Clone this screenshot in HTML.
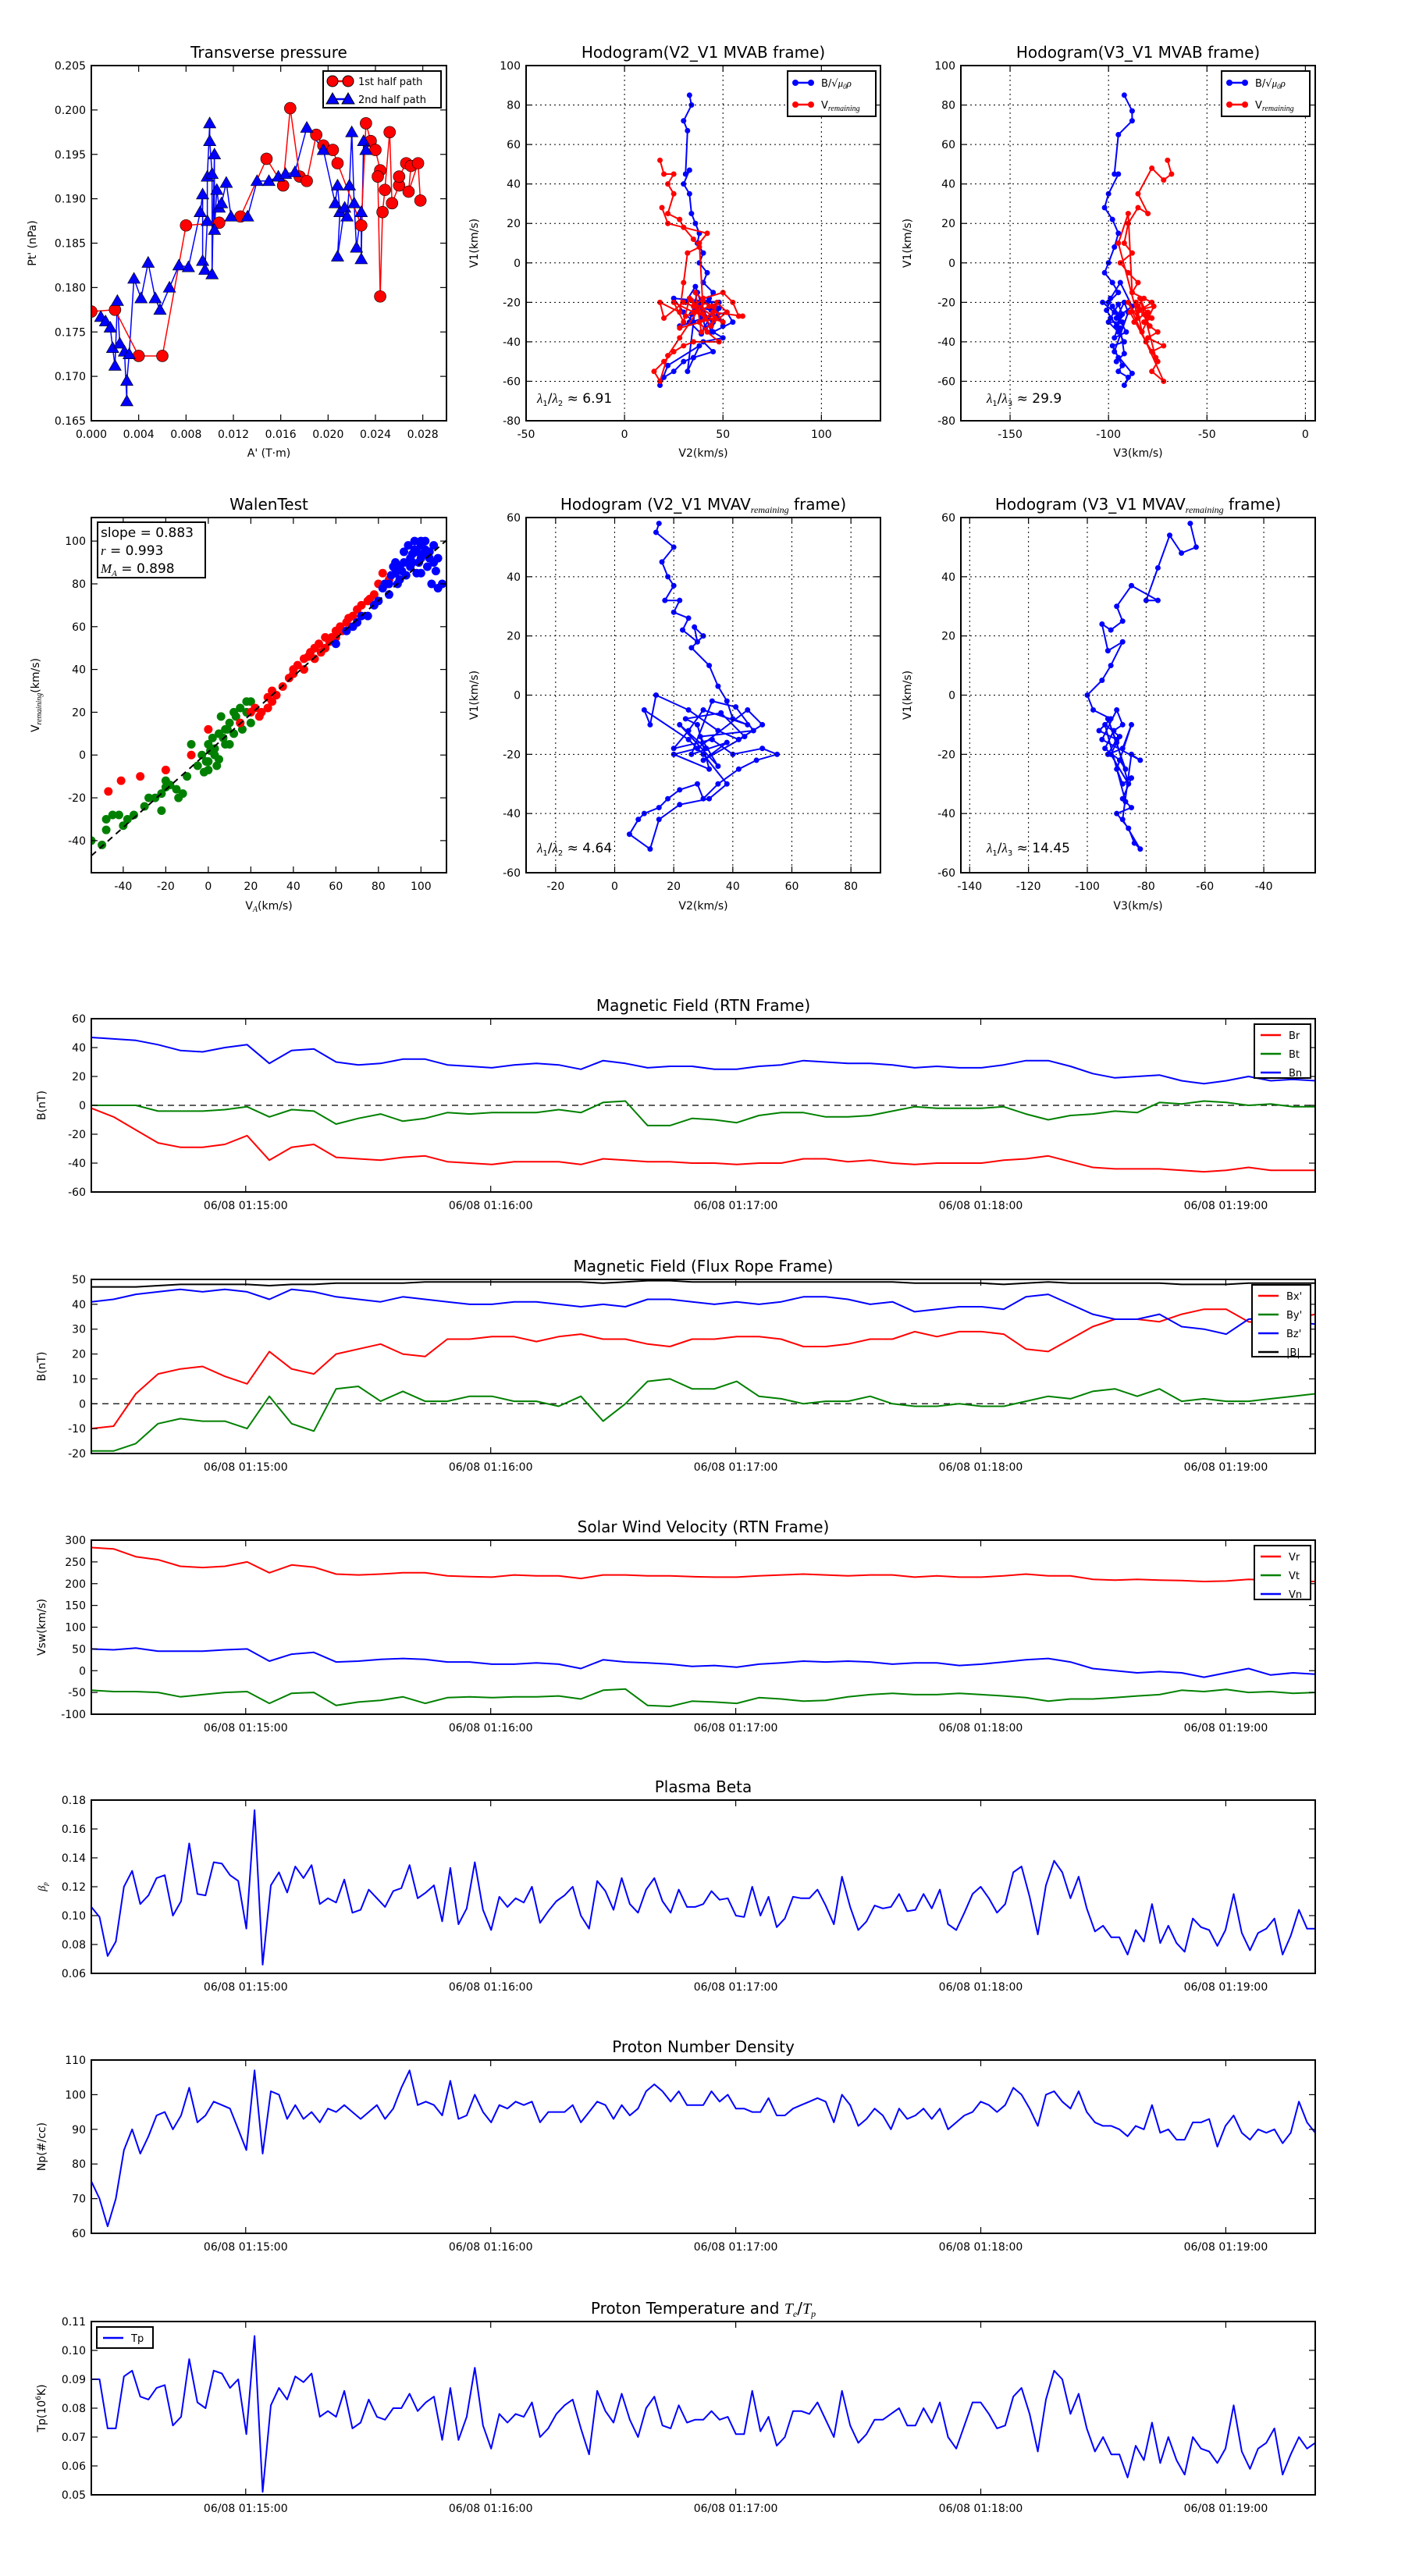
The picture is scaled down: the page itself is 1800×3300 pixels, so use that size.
<!DOCTYPE html>
<html><head><meta charset="utf-8">
<style>
body{margin:0;background:#fff}
svg{display:block}
text{font-family:"DejaVu Sans","Liberation Sans",sans-serif;fill:#000}
.m{font-family:"Liberation Serif",serif;font-style:italic}
</style></head>
<body>
<svg id="fig" xmlns="http://www.w3.org/2000/svg" width="1800" height="3300"></svg>
<script>
// ---------- Transverse pressure ----------
const ptRedX=[0.0,0.002,0.004,0.006,0.008,0.0108,0.0126,0.0148,0.0162,0.0168,0.0176,0.0182,0.019,0.0196,0.0204,0.0208,0.0228,0.0232,0.0236,0.024,0.0244,0.0242,0.0244,0.0246,0.0248,0.0252,0.0254,0.026,0.026,0.0266,0.027,0.0268,0.0276,0.0278];
const ptRedY=[0.1773,0.1775,0.1723,0.1723,0.187,0.1873,0.188,0.1945,0.1915,0.2002,0.1925,0.192,0.1972,0.196,0.1955,0.194,0.187,0.1985,0.1965,0.1955,0.1932,0.1925,0.179,0.1885,0.191,0.1975,0.1895,0.1915,0.1925,0.194,0.1937,0.1908,0.194,0.1898];
const ptBlueX=[0.0008,0.0012,0.0016,0.0018,0.002,0.0022,0.0024,0.0028,0.003,0.003,0.0032,0.0036,0.0042,0.0048,0.0054,0.0058,0.0066,0.0074,0.0082,0.0092,0.0094,0.0094,0.0096,0.0098,0.0098,0.01,0.01,0.0102,0.0102,0.0104,0.0104,0.0106,0.0108,0.011,0.0114,0.0118,0.0132,0.014,0.015,0.0158,0.0164,0.0172,0.0182,0.0196,0.0206,0.0208,0.021,0.0208,0.0214,0.0216,0.0218,0.022,0.0222,0.0224,0.0228,0.0228,0.023,0.0232];
const ptBlueY=[0.1767,0.1762,0.1755,0.1732,0.1712,0.1785,0.1737,0.1728,0.1672,0.1695,0.1725,0.181,0.1788,0.1828,0.1788,0.1775,0.18,0.1825,0.1823,0.1885,0.1905,0.183,0.182,0.1875,0.1925,0.1985,0.1965,0.1928,0.1815,0.195,0.1865,0.191,0.189,0.1895,0.1918,0.188,0.188,0.192,0.192,0.1925,0.1928,0.193,0.198,0.1955,0.1895,0.1915,0.1885,0.1835,0.189,0.188,0.1915,0.1975,0.1895,0.1845,0.1885,0.1832,0.1965,0.1955];
// ---------- Hodogram V2_V1 MVAB ----------
const h1BX=[33,34,30,32,31,33,30,33,34,36,38,37,40,38,42,40,45,42,48,25,30,35,28,40,52,55,45,50,40,45,35,30,25,20,18,22,38,32,36,44,47,41,38,34,43,50,46,39,33,37,42,48,44,36,31,40,45,39];
const h1BY=[85,80,72,67,45,47,40,35,25,20,15,10,5,0,-5,-10,-15,-20,-20,-18,-25,-30,-32,-28,-25,-30,-35,-38,-40,-45,-48,-50,-55,-58,-62,-52,-42,-55,-22,-24,-28,-33,-20,-26,-18,-32,-22,-36,-30,-15,-28,-23,-35,-12,-20,-25,-30,-27];
const h1RX=[18,20,25,22,25,22,28,30,35,38,32,30,28,18,20,30,35,40,50,55,58,60,45,38,42,48,35,30,25,20,15,18,22,28,40,45,50,35,25,30,33,37,41,44,47,52,39,36,43,31,28,46,34,40,38,42,22,19];
const h1RY=[52,45,45,40,35,25,22,18,12,8,5,-10,-25,-20,-28,-20,-22,-18,-15,-20,-27,-27,-25,-30,-35,-40,-40,-42,-45,-50,-55,-60,-47,-38,-20,-22,-30,-25,-20,-30,-18,-24,-28,-32,-20,-25,-35,-15,-22,-27,-33,-28,-19,-26,10,15,20,28];
// ---------- Hodogram V3_V1 MVAB ----------
const h2BX=[-92,-88,-88,-95,-97,-95,-100,-102,-98,-95,-97,-100,-102,-98,-95,-100,-103,-97,-93,-100,-95,-92,-98,-95,-93,-95,-90,-92,-88,-97,-90,-92,-96,-88,-94,-99,-101,-96,-94,-98,-91,-97,-93,-95,-99,-94,-92,-96];
const h2BY=[85,77,72,65,45,45,35,28,22,15,8,0,-5,-10,-15,-20,-20,-25,-30,-30,-35,-40,-42,-48,-52,-55,-58,-62,-56,-45,-25,-20,-28,-22,-10,-18,-24,-32,-27,-22,-35,-38,-26,-21,-28,-33,-46,-50];
const h2RX=[-70,-68,-72,-78,-85,-80,-85,-90,-92,-88,-94,-90,-85,-88,-82,-85,-80,-78,-82,-75,-80,-72,-78,-75,-78,-72,-90,-85,-95,-90,-88,-78,-84,-87,-82,-79,-86,-83,-77,-89,-81,-76,-84,-80];
const h2RY=[52,45,42,48,35,25,28,20,10,5,0,-5,-10,-15,-18,-22,-25,-28,-30,-35,-38,-42,-45,-50,-55,-60,-20,-28,10,25,-15,-20,-24,-30,-26,-32,-20,-35,-22,-25,-40,-48,-18,-27];
// ---------- Walen test ----------
const wGX=[-55,-50,-48,-48,-45,-42,-40,-38,-35,-30,-28,-25,-22,-20,-18,-15,-22,-20,-10,-5,-3,0,0,2,3,5,5,8,8,10,12,12,15,15,18,18,20,10,-2,6,-8,0,4,20,3,7,-12,-14,1,9,13,16,-1];
const wGY=[-40,-42,-30,-35,-28,-28,-33,-30,-28,-24,-20,-20,-18,-15,-14,-16,-26,-12,-10,-5,0,-3,5,8,0,-2,10,12,5,15,10,20,15,22,20,25,25,5,-8,18,5,-7,-5,15,3,8,-18,-20,2,12,18,12,-3];
const wRX=[-47,-41,-32,-20,0,-8,15,20,22,25,28,30,30,35,40,42,45,48,50,52,55,58,60,62,65,68,70,75,78,80,82,85,45,50,55,40,60,32,38,47,53,57,63,66,72,76,84,24,28];
const wRY=[-17,-12,-10,-7,12,0,15,20,22,20,22,25,30,32,40,42,45,48,50,52,55,55,58,60,62,65,68,72,75,80,85,82,40,45,50,38,55,28,36,46,48,53,58,64,70,73,80,18,27];
const wBX=[60,65,68,70,72,75,78,80,82,85,88,90,92,95,98,100,102,104,106,108,110,105,100,95,90,88,92,96,100,85,98,103,108,94,97,102,106,86,89,91,93,97,99,101,104,107,87,83,96,100];
const wBY=[52,58,60,62,65,65,70,72,78,80,85,88,90,92,95,98,100,95,98,92,80,80,85,88,82,90,95,90,92,75,85,88,78,98,100,96,90,84,80,86,84,96,90,94,92,86,88,80,94,100];
const walenSlope=0.883, walenIntercept=1.5;
// ---------- Hodogram MVAV remaining ----------
const h3X=[15,14,20,16,18,20,17,22,20,25,23,28,27,30,26,32,35,38,40,45,30,25,20,33,40,50,55,48,42,35,30,28,22,18,15,10,8,5,12,15,22,32,38,30,25,10,12,14,25,35,42,50,45,28,20,32,28,24,36,44,30,38,26,33,41,47,29,35,22,31];
const h3Y=[58,55,50,45,40,37,32,32,28,26,22,18,23,20,16,10,3,-2,-8,-10,-5,-12,-18,-15,-20,-18,-20,-22,-25,-30,-35,-30,-32,-35,-38,-40,-42,-47,-52,-42,-37,-35,-30,-20,-15,-5,-10,0,-5,-12,-15,-10,-5,-18,-20,-25,-10,-8,-6,-14,-22,-16,-20,-2,-4,-12,-14,-24,-10,-18];
const h4X=[-65,-63,-68,-72,-76,-80,-76,-85,-90,-88,-92,-95,-93,-88,-92,-95,-100,-98,-92,-96,-90,-93,-88,-85,-90,-88,-85,-88,-85,-90,-86,-84,-82,-88,-85,-82,-95,-90,-88,-91,-94,-89,-87,-93,-90,-86,-92,-89,-94,-87];
const h4Y=[58,50,48,54,43,32,32,37,30,25,22,24,15,18,10,5,0,-5,-8,-12,-15,-20,-18,-10,-25,-30,-28,-35,-38,-40,-45,-50,-52,-42,-20,-22,-15,-5,-10,-12,-18,-22,-25,-8,-16,-30,-20,-14,-10,-36];
// ---------- Time series (uniform sampling 01:14:22 - 01:19:22) ----------
const tStart=862.2, tEnd=1161.9;
const timeTicks=[900,960,1020,1080,1140];
const timeLabels=["06/08 01:15:00","06/08 01:16:00","06/08 01:17:00","06/08 01:18:00","06/08 01:19:00"];
const Br=[-2,-8,-17,-26,-29,-29,-27,-21,-38,-29,-27,-36,-37,-38,-36,-35,-39,-40,-41,-39,-39,-39,-41,-37,-38,-39,-39,-40,-40,-41,-40,-40,-37,-37,-39,-38,-40,-41,-40,-40,-40,-38,-37,-35,-39,-43,-44,-44,-44,-45,-46,-45,-43,-45,-45,-45];
const Bt=[0,0,0,-4,-4,-4,-3,-1,-8,-3,-4,-13,-9,-6,-11,-9,-5,-6,-5,-5,-5,-3,-5,2,3,-14,-14,-9,-10,-12,-7,-5,-5,-8,-8,-7,-4,-1,-2,-2,-2,-1,-6,-10,-7,-6,-4,-5,2,1,3,2,0,1,-1,-1];
const Bn=[47,46,45,42,38,37,40,42,29,38,39,30,28,29,32,32,28,27,26,28,29,28,25,31,29,26,27,27,25,25,27,28,31,30,29,29,28,26,27,26,26,28,31,31,27,22,19,20,21,17,15,17,20,17,18,17];
const Bxp=[-10,-9,4,12,14,15,11,8,21,14,12,20,22,24,20,19,26,26,27,27,25,27,28,26,26,24,23,26,26,27,27,26,23,23,24,26,26,29,27,29,29,28,22,21,26,31,34,34,33,36,38,38,33,32,34,36];
const Byp=[-19,-19,-16,-8,-6,-7,-7,-10,3,-8,-11,6,7,1,5,1,1,3,3,1,1,-1,3,-7,0,9,10,6,6,9,3,2,0,1,1,3,0,-1,-1,0,-1,-1,1,3,2,5,6,3,6,1,2,1,1,2,3,4];
const Bzp=[41,42,44,45,46,45,46,45,42,46,45,43,42,41,43,42,41,40,40,41,41,40,39,40,39,42,42,41,40,41,40,41,43,43,42,40,41,37,38,39,39,38,43,44,40,36,34,34,36,31,30,28,34,35,33,32];
const Bmag=[47,47,47,47.5,48,48,48,48,47.5,48,48,48.5,48.5,48.5,48.5,49,49,49,49,49,49,49,49,48.5,49,49.5,49.5,49,49,49,49,49,49,49,49,49,49,48.5,48.5,48.5,48.5,48,48.5,49,48.5,48.5,48.5,48.5,48.5,48,48,48,48.5,48.5,48.5,48.5];
const Vr=[283,280,262,255,240,237,240,250,225,243,238,222,220,222,225,225,218,216,215,220,218,218,212,220,220,218,218,216,215,215,218,220,222,220,218,220,220,215,218,215,215,218,222,218,218,210,208,210,208,207,205,206,210,208,205,205];
const Vt=[-45,-48,-48,-50,-60,-55,-50,-48,-75,-52,-50,-80,-72,-68,-60,-75,-62,-60,-62,-60,-60,-58,-65,-45,-42,-80,-82,-70,-72,-75,-62,-65,-70,-68,-60,-55,-52,-55,-55,-52,-55,-58,-62,-70,-65,-65,-62,-58,-55,-45,-48,-43,-50,-48,-52,-50];
const Vn=[50,48,52,45,45,45,48,50,22,38,42,20,22,26,28,26,20,20,15,15,18,15,5,25,20,18,15,10,12,8,15,18,22,20,22,20,15,18,18,12,15,20,25,28,20,5,0,-5,-2,-5,-15,-5,5,-10,-5,-8];
const beta=[.106,.099,.072,.082,.120,.131,.108,.114,.126,.128,.100,.110,.150,.115,.114,.137,.136,.128,.124,.091,.173,.066,.121,.130,.116,.134,.126,.135,.108,.112,.109,.125,.102,.104,.118,.112,.106,.117,.119,.135,.112,.116,.121,.096,.133,.094,.105,.137,.104,.090,.113,.106,.112,.109,.120,.095,.103,.110,.114,.120,.100,.091,.124,.117,.104,.126,.108,.102,.118,.126,.110,.102,.118,.106,.106,.108,.117,.111,.112,.100,.099,.120,.100,.113,.092,.098,.113,.112,.112,.118,.107,.094,.127,.106,.090,.096,.107,.105,.106,.115,.103,.104,.115,.105,.118,.094,.090,.102,.115,.120,.112,.102,.108,.130,.134,.113,.087,.121,.138,.130,.112,.127,.105,.089,.093,.085,.085,.073,.090,.082,.108,.081,.093,.081,.075,.098,.092,.090,.079,.090,.115,.088,.076,.088,.091,.098,.073,.086,.104,.091,.091];
const density=[75,70,62,70,84,90,83,88,94,95,90,94,102,92,94,98,97,96,90,84,107,83,101,100,93,97,93,95,92,96,95,97,95,93,95,97,93,96,102,107,97,98,97,94,104,93,94,100,95,92,97,96,98,97,98,92,95,95,95,97,92,95,98,97,93,97,94,96,101,103,101,98,101,97,97,97,101,98,100,96,96,95,95,99,94,94,96,97,98,99,98,92,100,97,91,93,96,94,90,96,93,94,96,93,96,90,92,94,95,98,97,95,97,102,100,96,91,100,101,98,96,101,95,92,91,91,90,88,91,90,97,89,90,87,87,92,92,93,85,91,94,89,87,90,89,90,86,89,98,92,89];
const tempP=[.090,.090,.073,.073,.091,.093,.084,.083,.087,.088,.074,.077,.097,.082,.080,.093,.092,.087,.090,.071,.105,.051,.081,.087,.083,.091,.089,.092,.077,.079,.077,.086,.073,.075,.083,.077,.076,.080,.080,.085,.079,.082,.084,.069,.087,.069,.077,.094,.074,.066,.078,.075,.078,.077,.082,.070,.073,.078,.081,.083,.073,.064,.086,.079,.075,.085,.076,.070,.080,.084,.074,.073,.081,.075,.076,.076,.079,.076,.077,.071,.071,.086,.072,.077,.067,.070,.079,.079,.078,.082,.076,.070,.086,.074,.068,.071,.076,.076,.078,.080,.074,.074,.080,.075,.082,.070,.066,.074,.082,.082,.078,.073,.074,.084,.087,.078,.065,.083,.093,.090,.078,.085,.073,.065,.070,.064,.064,.056,.067,.062,.075,.061,.070,.062,.057,.070,.066,.065,.061,.066,.081,.065,.059,.066,.068,.073,.057,.064,.070,.066,.068];

const NS='http://www.w3.org/2000/svg';
const svg=document.getElementById('fig');
function el(tag,attrs,parent){const e=document.createElementNS(NS,tag);for(const k in attrs)e.setAttribute(k,attrs[k]);(parent||svg).appendChild(e);return e;}
let clipId=0;
function makeAxes(name,x0,y0,x1,y1,xmin,xmax,ymin,ymax){
  const g=el('g',{});
  
  
  const cid='c'+(clipId++);
  const cp=el('clipPath',{id:cid},g);
  el('rect',{x:x0,y:y0,width:x1-x0,height:y1-y0},cp);
  const data=el('g',{'clip-path':'url(#'+cid+')'},g);
  
  
  return {g,data,x0,y0,x1,y1,sx:v=>x0+(v-xmin)/(xmax-xmin)*(x1-x0),sy:v=>y1-(v-ymin)/(ymax-ymin)*(y1-y0)};
}
function frame(ax){
  const r=el('rect',{x:ax.x0,y:ax.y0,width:ax.x1-ax.x0,height:ax.y1-ax.y0,fill:'none',stroke:'#000','stroke-width':2},ax.g);
  
  
}
function xTicks(ax,vals,labels,grid){
  vals.forEach((v,i)=>{const x=ax.sx(v);
    if(grid){const gl=el('line',{x1:x,x2:x,y1:ax.y0,y2:ax.y1,stroke:'#000','stroke-width':1,'stroke-dasharray':'2,4'},ax.g);
      
      }
    el('line',{x1:x,x2:x,y1:ax.y1,y2:ax.y1-8,stroke:'#000','stroke-width':1.2},ax.g);
    el('line',{x1:x,x2:x,y1:ax.y0,y2:ax.y0+8,stroke:'#000','stroke-width':1.2},ax.g);
    const t=el('text',{x:x,y:ax.y1+22,'text-anchor':'middle','font-size':14},ax.g);
    t.textContent=labels[i];
    
    
  });
}
function yTicks(ax,vals,labels,grid){
  vals.forEach((v,i)=>{const y=ax.sy(v);
    if(grid){const gl=el('line',{x1:ax.x0,x2:ax.x1,y1:y,y2:y,stroke:'#000','stroke-width':1,'stroke-dasharray':'2,4'},ax.g);
      
      }
    el('line',{x1:ax.x0,x2:ax.x0+8,y1:y,y2:y,stroke:'#000','stroke-width':1.2},ax.g);
    el('line',{x1:ax.x1,x2:ax.x1-8,y1:y,y2:y,stroke:'#000','stroke-width':1.2},ax.g);
    const t=el('text',{x:ax.x0-7,y:y+5,'text-anchor':'end','font-size':14},ax.g);
    t.textContent=labels[i];
    
    
  });
}
function title(ax,txt,html){
  const t=el('text',{x:(ax.x0+ax.x1)/2,y:ax.y0-10,'text-anchor':'middle','font-size':20},ax.g);
  if(html)t.innerHTML=txt;else t.textContent=txt;
  
  
}
function xLabel(ax,txt,y,html){
  const t=el('text',{x:(ax.x0+ax.x1)/2,y:y,'text-anchor':'middle','font-size':14},ax.g);
  if(html)t.innerHTML=txt;else t.textContent=txt;
  
  
}
function yLabel(ax,txt,x,html){
  const cy=(ax.y0+ax.y1)/2;
  const t=el('text',{x:x,y:cy,'text-anchor':'middle','font-size':14,transform:'rotate(-90 '+x+' '+cy+')'},ax.g);
  if(html)t.innerHTML=txt;else t.textContent=txt;
  
  
}
function range(a,b,s){const r=[];for(let v=a;v<=b+1e-9;v+=s)r.push(+v.toFixed(6));return r;}
function pathLine(ax,xs,ys,color,w,name){
  const d=xs.map((x,i)=>(i?'L':'M')+ax.sx(x).toFixed(1)+' '+ax.sy(ys[i]).toFixed(1)).join('');
  const p=el('path',{d:d,fill:'none',stroke:color,'stroke-width':w,'stroke-linejoin':'round'},ax.data);
  
  
  return p;
}
function circles(ax,xs,ys,color,r,name,edge){
  const g=el('g',{fill:color,stroke:edge||'none','stroke-width':0.6},ax.data);
  
  
  xs.forEach((x,i)=>{const c=el('circle',{cx:ax.sx(x),cy:ax.sy(ys[i]),r:r},g);
    
    });
}
function triangles(ax,xs,ys,color,r,name){
  const g=el('g',{fill:color,stroke:'#000','stroke-width':0.6},ax.data);
  
  
  xs.forEach((x,i)=>{const cx=ax.sx(x),cy=ax.sy(ys[i]);
    const p=el('polygon',{points:`${cx},${cy-r} ${cx-r},${cy+r*0.75} ${cx+r},${cy+r*0.75}`},g);
    
    });
}
function legendBox(ax,x,y,w,h){
  const r=el('rect',{x:x,y:y,width:w,height:h,fill:'#fff',stroke:'#000','stroke-width':2},ax.g);
  
  
}
function legendEntry(ax,x,y,color,label,marker,html){
  el('line',{x1:x,x2:x+26,y1:y,y2:y,stroke:color,'stroke-width':2.5},ax.g);
  if(marker==='c'){el('circle',{cx:x+3,cy:y,r:4,fill:color},ax.g);el('circle',{cx:x+23,cy:y,r:4,fill:color},ax.g);}
  if(marker==='C'){el('circle',{cx:x+3,cy:y,r:7,fill:color,stroke:'#000'},ax.g);el('circle',{cx:x+23,cy:y,r:7,fill:color,stroke:'#000'},ax.g);}
  if(marker==='T'){[x+3,x+23].forEach(cx=>el('polygon',{points:`${cx},${y-8} ${cx-8},${y+6} ${cx+8},${y+6}`,fill:color,stroke:'#000'},ax.g));}
  const t=el('text',{x:x+36,y:y+5,'font-size':13},ax.g);
  if(html)t.innerHTML=label;else t.textContent=label;
  
  
}
function note(ax,x,y,html,size){
  const t=el('text',{x:x,y:y,'font-size':size||17},ax.g);
  t.innerHTML=html;
  
  
}
const fmt=(n,d)=>v=>v.toFixed(d);
const BLBL='B/√<tspan class="m">μ<tspan font-size="9" dy="3">0</tspan><tspan dy="-3">ρ</tspan></tspan>';
const VLBL='V<tspan class="m" font-size="10" dy="3">remaining</tspan>';

// ===== Panel: Transverse pressure =====
{const ax=makeAxes('transverse-pressure-chart',117,84,572,539,0,0.03,0.165,0.205);
 pathLine(ax,ptBlueX,ptBlueY,'#00f',1.5,'path2-line');
 pathLine(ax,ptRedX,ptRedY,'#f00',1.5,'path1-line');
 circles(ax,ptRedX,ptRedY,'#f00',7.5,'path1-markers','#000');
 triangles(ax,ptBlueX,ptBlueY,'#00f',8,'path2-markers');
 const xv=range(0,0.028,0.004);xTicks(ax,xv,xv.map(fmt(0,3)));
 const yv=range(0.165,0.205,0.005);yTicks(ax,yv,yv.map(fmt(0,3)));
 frame(ax);title(ax,'Transverse pressure');
 xLabel(ax,"A' (T·m)",585);yLabel(ax,"Pt' (nPa)",46);
 legendBox(ax,414,91,151,47);
 legendEntry(ax,423,104,'#f00','1st half path','C');
 legendEntry(ax,423,127,'#00f','2nd half path','T');
}
// ===== Hodogram V2_V1 MVAB =====
{const ax=makeAxes('hodogram-v2-v1-mvab',674,84,1128,539,-50,130,-80,100);
 const xv=[-50,0,50,100];xTicks(ax,xv,xv.map(String),true);
 const yv=range(-80,100,20);yTicks(ax,yv,yv.map(String),true);
 pathLine(ax,h1BX,h1BY,'#00f',2,'b-alfven-line');circles(ax,h1BX,h1BY,'#00f',3.5,'b-alfven-markers');
 pathLine(ax,h1RX,h1RY,'#f00',2,'v-remaining-line');circles(ax,h1RX,h1RY,'#f00',3.5,'v-remaining-markers');
 frame(ax);title(ax,'Hodogram(V2_V1 MVAB frame)');
 xLabel(ax,'V2(km/s)',585);yLabel(ax,'V1(km/s)',612);
 legendBox(ax,1009,91,113,58);
 legendEntry(ax,1016,106,'#00f',BLBL,'c',true);
 legendEntry(ax,1016,134,'#f00',VLBL,'c',true);
 note(ax,688,516,'<tspan class="m">λ</tspan><tspan font-size="10" dy="4">1</tspan><tspan dy="-4">/</tspan><tspan class="m">λ</tspan><tspan font-size="10" dy="4">2</tspan><tspan dy="-4"> ≈ 6.91</tspan>');
}
// ===== Hodogram V3_V1 MVAB =====
{const ax=makeAxes('hodogram-v3-v1-mvab',1231,84,1685,539,-175,5,-80,100);
 const xv=[-150,-100,-50,0];xTicks(ax,xv,xv.map(String),true);
 const yv=range(-80,100,20);yTicks(ax,yv,yv.map(String),true);
 pathLine(ax,h2BX,h2BY,'#00f',2,'b-alfven-line');circles(ax,h2BX,h2BY,'#00f',3.5,'b-alfven-markers');
 pathLine(ax,h2RX,h2RY,'#f00',2,'v-remaining-line');circles(ax,h2RX,h2RY,'#f00',3.5,'v-remaining-markers');
 frame(ax);title(ax,'Hodogram(V3_V1 MVAB frame)');
 xLabel(ax,'V3(km/s)',585);yLabel(ax,'V1(km/s)',1167);
 legendBox(ax,1565,91,113,58);
 legendEntry(ax,1572,106,'#00f',BLBL,'c',true);
 legendEntry(ax,1572,134,'#f00',VLBL,'c',true);
 note(ax,1264,516,'<tspan class="m">λ</tspan><tspan font-size="10" dy="4">1</tspan><tspan dy="-4">/</tspan><tspan class="m">λ</tspan><tspan font-size="10" dy="4">3</tspan><tspan dy="-4"> ≈ 29.9</tspan>');
}
// ===== Walen test =====
{const ax=makeAxes('walen-test-chart',117,663,572,1118,-55,112,-55,111);
 circles(ax,wGX,wGY,'#008000',5.5,'green-points');
 circles(ax,wRX,wRY,'#f00',5.5,'red-points');
 circles(ax,wBX,wBY,'#00f',5.5,'blue-points');
 const lx=[-55,112];
 const fit=pathLine(ax,lx,lx.map(v=>walenSlope*v+walenIntercept),'#000',2,'fit-line');fit.setAttribute('stroke-dasharray','8,6');
 const xv=range(-40,100,20);xTicks(ax,xv,xv.map(String));
 const yv=range(-40,100,20);yTicks(ax,yv,yv.map(String));
 frame(ax);title(ax,'WalenTest');
 xLabel(ax,'V<tspan class="m" font-size="10" dy="3">A</tspan><tspan dy="-3">(km/s)</tspan>',1165,true);
 yLabel(ax,'V<tspan class="m" font-size="10" dy="3">remaining</tspan><tspan dy="-3">(km/s)</tspan>',50,true);
 legendBox(ax,125,669,138,71);
 note(ax,129,688,'slope = 0.883');
 note(ax,129,711,'<tspan class="m">r</tspan> = 0.993');
 note(ax,129,734,'<tspan class="m">M</tspan><tspan class="m" font-size="11" dy="4">A</tspan><tspan dy="-4"> = 0.898</tspan>');
}
// ===== Hodogram MVAV V2 =====
{const ax=makeAxes('hodogram-v2-v1-mvav',674,663,1128,1118,-30,90,-60,60);
 const xv=range(-20,80,20);xTicks(ax,xv,xv.map(String),true);
 const yv=range(-60,60,20);yTicks(ax,yv,yv.map(String),true);
 pathLine(ax,h3X,h3Y,'#00f',2,'hodogram-line');circles(ax,h3X,h3Y,'#00f',3.5,'hodogram-markers');
 frame(ax);title(ax,'Hodogram (V2_V1 MVAV<tspan class="m" font-size="12" dy="4">remaining</tspan><tspan dy="-4"> frame)</tspan>',true);
 xLabel(ax,'V2(km/s)',1165);yLabel(ax,'V1(km/s)',612);
 note(ax,688,1092,'<tspan class="m">λ</tspan><tspan font-size="10" dy="4">1</tspan><tspan dy="-4">/</tspan><tspan class="m">λ</tspan><tspan font-size="10" dy="4">2</tspan><tspan dy="-4"> ≈ 4.64</tspan>');
}
// ===== Hodogram MVAV V3 =====
{const ax=makeAxes('hodogram-v3-v1-mvav',1231,663,1685,1118,-143,-22.5,-60,60);
 const xv=range(-140,-40,20);xTicks(ax,xv,xv.map(String),true);
 const yv=range(-60,60,20);yTicks(ax,yv,yv.map(String),true);
 pathLine(ax,h4X,h4Y,'#00f',2,'hodogram-line');circles(ax,h4X,h4Y,'#00f',3.5,'hodogram-markers');
 frame(ax);title(ax,'Hodogram (V3_V1 MVAV<tspan class="m" font-size="12" dy="4">remaining</tspan><tspan dy="-4"> frame)</tspan>',true);
 xLabel(ax,'V3(km/s)',1165);yLabel(ax,'V1(km/s)',1167);
 note(ax,1264,1092,'<tspan class="m">λ</tspan><tspan font-size="10" dy="4">1</tspan><tspan dy="-4">/</tspan><tspan class="m">λ</tspan><tspan font-size="10" dy="4">3</tspan><tspan dy="-4"> ≈ 14.45</tspan>');
}
// ===== Time series panels =====
function tsTimes(n){const a=[];for(let i=0;i<n;i++)a.push(tStart+i*(tEnd-tStart)/(n-1));return a;}
function tsPanel(name,y0,y1,ymin,ymax,yv,ylab,dec,titleTxt,ylabelTxt,series,zero,legend,thtml,yhtml){
  const ax=makeAxes(name,117,y0,1685,y1,tStart,tEnd,ymin,ymax);
  if(zero){const z=el('line',{x1:ax.x0,x2:ax.x1,y1:ax.sy(0),y2:ax.sy(0),stroke:'#000','stroke-width':1.2,'stroke-dasharray':'8,6'},ax.data);
    
    }
  series.forEach(s=>pathLine(ax,tsTimes(s.v.length),s.v,s.c,2,s.n));
  xTicks(ax,timeTicks,timeLabels);
  yTicks(ax,yv,yv.map(v=>dec?v.toFixed(dec):String(v)));
  frame(ax);title(ax,titleTxt,thtml);yLabel(ax,ylabelTxt,58,yhtml);
  if(legend){legendBox(ax,legend.x,legend.y,legend.w,legend.h);
    series.forEach((s,i)=>legendEntry(ax,legend.x+8,legend.y+14+i*24,s.c,s.lab));}
  return ax;
}
tsPanel('magnetic-field-rtn-chart',1305,1527,-60,60,range(-60,60,20),null,0,'Magnetic Field (RTN Frame)','B(nT)',
  [{v:Br,c:'#f00',n:'br-line',lab:'Br'},{v:Bt,c:'#008000',n:'bt-line',lab:'Bt'},{v:Bn,c:'#00f',n:'bn-line',lab:'Bn'}],true,{x:1607,y:1312,w:72,h:69});
tsPanel('magnetic-field-flux-rope-chart',1639,1862,-20,50,range(-20,50,10),null,0,'Magnetic Field (Flux Rope Frame)','B(nT)',
  [{v:Bxp,c:'#f00',n:'bx-line',lab:"Bx'"},{v:Byp,c:'#008000',n:'by-line',lab:"By'"},{v:Bzp,c:'#00f',n:'bz-line',lab:"Bz'"},{v:Bmag,c:'#000',n:'bmag-line',lab:'|B|'}],true,{x:1604,y:1646,w:75,h:92});
tsPanel('solar-wind-velocity-chart',1973,2196,-100,300,range(-100,300,50),null,0,'Solar Wind Velocity (RTN Frame)','Vsw(km/s)',
  [{v:Vr,c:'#f00',n:'vr-line',lab:'Vr'},{v:Vt,c:'#008000',n:'vt-line',lab:'Vt'},{v:Vn,c:'#00f',n:'vn-line',lab:'Vn'}],false,{x:1607,y:1980,w:72,h:69});
tsPanel('plasma-beta-chart',2306,2528,0.06,0.18,range(0.06,0.18,0.02),null,2,'Plasma Beta','<tspan class="m">β</tspan><tspan class="m" font-size="9" dy="3">p</tspan>',
  [{v:beta,c:'#00f',n:'beta-line',lab:'beta'}],false,null,false,true);
tsPanel('proton-density-chart',2639,2861,60,110,range(60,110,10),null,0,'Proton Number Density','Np(#/cc)',
  [{v:density,c:'#00f',n:'density-line',lab:'Np'}],false,null);
tsPanel('proton-temperature-chart',2974,3196,0.05,0.11,range(0.05,0.11,0.01),null,2,'Proton Temperature and <tspan class="m">T</tspan><tspan class="m" font-size="12" dy="4">e</tspan><tspan dy="-4">/</tspan><tspan class="m">T</tspan><tspan class="m" font-size="12" dy="4">p</tspan>','Tp(10<tspan font-size="9" dy="-6">6</tspan><tspan dy="6">K)</tspan>',
  [{v:tempP,c:'#00f',n:'tp-line',lab:'Tp'}],false,{x:124,y:2981,w:72,h:27},true,true);
</script>
</body></html>
